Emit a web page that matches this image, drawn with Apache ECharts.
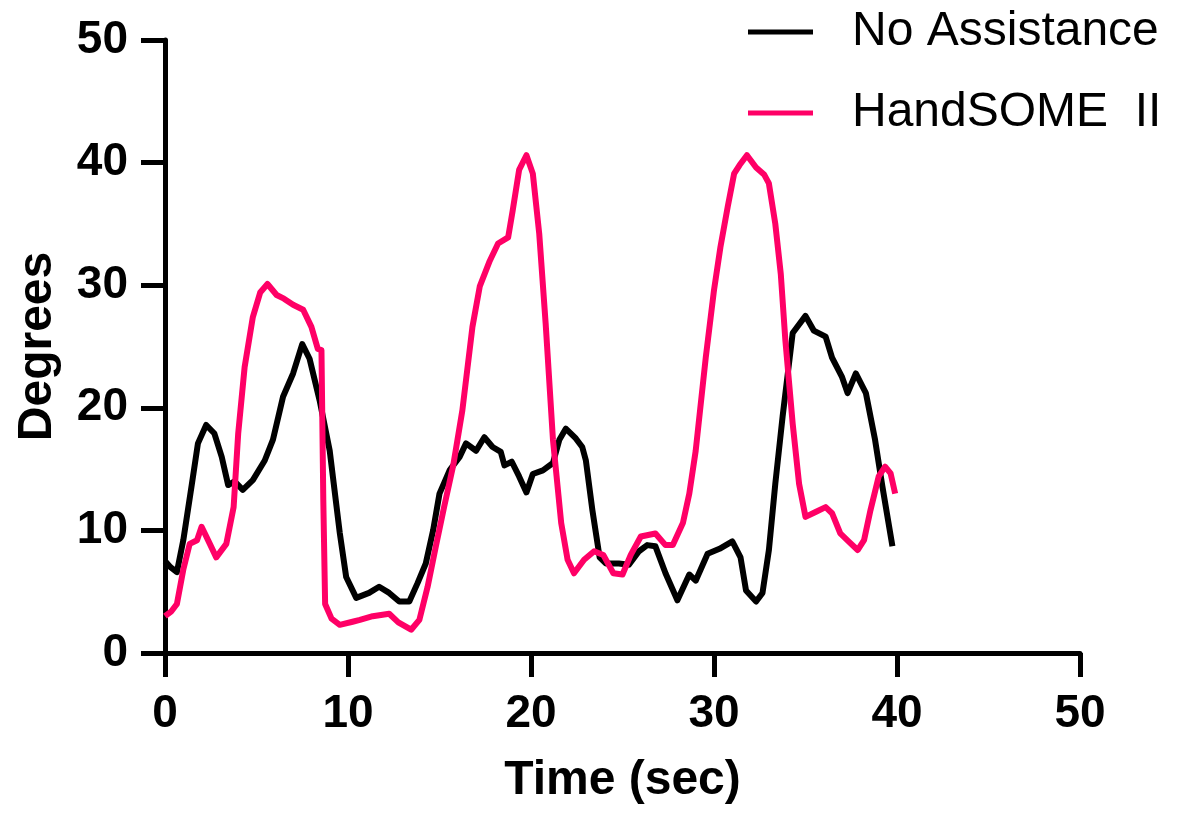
<!DOCTYPE html>
<html>
<head>
<meta charset="utf-8">
<title>Degrees over time</title>
<script src="https://cdn.jsdelivr.net/npm/echarts@6/dist/echarts.min.js"></script>
<style>
  html, body { margin: 0; padding: 0; background: #fff; }
  #chart { width: 1184px; height: 819px; }
</style>
</head>
<body>
<div id="chart"></div>
<script>
// Joint angle traces (degrees) sampled over time (sec)
const noAssistTime = [0, 0.3, 0.65, 1.0, 1.45, 1.8, 2.25, 2.7, 3.1, 3.45, 3.8, 4.25, 4.8, 5.45, 5.9, 6.45, 7.0, 7.5, 7.9, 8.45, 9.0, 9.55, 9.9, 10.45, 11.15, 11.7, 12.25, 12.8, 13.35, 13.8, 14.25, 14.65, 15.0, 15.55, 16.1, 16.45, 17.0, 17.45, 17.9, 18.35, 18.55, 18.95, 19.35, 19.75, 20.1, 20.65, 21.2, 21.55, 21.9, 22.45, 22.8, 23.0, 23.35, 23.75, 24.1, 24.8, 25.35, 25.9, 26.35, 26.8, 27.35, 28.0, 28.65, 29.0, 29.65, 30.3, 31.0, 31.45, 31.75, 32.3, 32.65, 33.0, 33.35, 33.75, 34.3, 35.0, 35.45, 36.1, 36.45, 37.0, 37.3, 37.75, 38.3, 38.8, 39.2, 39.75];
const noAssistDeg = [7.5, 7.0, 6.6, 9.2, 13.6, 17.1, 18.6, 17.9, 16.0, 13.7, 14.0, 13.3, 14.1, 15.7, 17.4, 20.9, 22.8, 25.2, 24.0, 20.6, 16.5, 9.8, 6.2, 4.5, 4.9, 5.4, 4.9, 4.2, 4.2, 5.7, 7.3, 10.0, 13.0, 14.9, 16.0, 17.1, 16.5, 17.6, 16.8, 16.4, 15.3, 15.6, 14.4, 13.1, 14.6, 14.9, 15.5, 17.4, 18.3, 17.5, 16.8, 15.7, 11.7, 7.8, 7.3, 7.3, 7.2, 8.3, 8.8, 8.7, 6.5, 4.3, 6.4, 5.9, 8.1, 8.5, 9.1, 7.8, 5.1, 4.2, 4.9, 8.4, 13.8, 19.3, 26.1, 27.5, 26.3, 25.8, 24.1, 22.5, 21.2, 22.8, 21.2, 17.4, 13.6, 8.7];

const handsomeTime = [0, 0.35, 0.65, 1.0, 1.35, 1.75, 2.0, 2.45, 2.8, 3.35, 3.75, 4.0, 4.35, 4.8, 5.2, 5.6, 6.1, 6.5, 7.0, 7.55, 8.0, 8.35, 8.55, 8.65, 8.75, 9.1, 9.55, 10.25, 10.65, 11.35, 12.25, 12.75, 13.45, 13.9, 14.35, 14.8, 15.25, 15.75, 16.25, 16.8, 17.2, 17.75, 18.2, 18.75, 19.0, 19.35, 19.75, 20.1, 20.45, 20.8, 21.2, 21.65, 22.0, 22.35, 22.9, 23.45, 23.95, 24.5, 25.0, 25.45, 26.0, 26.8, 27.35, 27.75, 28.3, 28.65, 29.0, 29.55, 30.0, 30.35, 30.75, 31.1, 31.4, 31.8, 32.3, 32.75, 33.0, 33.35, 33.65, 33.9, 34.3, 34.65, 35.0, 35.55, 36.1, 36.45, 36.9, 37.35, 37.85, 38.2, 38.55, 39.0, 39.35, 39.65, 39.9];
const handsomeDeg = [3.0, 3.4, 4.0, 6.8, 8.9, 9.2, 10.3, 8.9, 7.8, 8.9, 11.9, 17.9, 23.3, 27.4, 29.4, 30.1, 29.2, 28.9, 28.4, 28.0, 26.6, 24.8, 24.7, 12.5, 4.0, 2.8, 2.3, 2.55, 2.7, 3.0, 3.2, 2.5, 1.9, 2.7, 5.4, 8.7, 11.9, 15.3, 19.8, 26.6, 29.9, 32.0, 33.4, 33.9, 36.1, 39.4, 40.6, 39.1, 34.2, 26.9, 17.4, 10.6, 7.6, 6.5, 7.6, 8.3, 8.0, 6.5, 6.4, 8.0, 9.5, 9.75, 8.8, 8.8, 10.6, 13.0, 16.5, 24.1, 29.6, 33.1, 36.4, 39.1, 39.8, 40.6, 39.6, 39.0, 38.3, 35.0, 30.9, 25.5, 18.7, 13.8, 11.1, 11.5, 11.9, 11.4, 9.75, 9.1, 8.4, 9.2, 11.65, 14.4, 15.2, 14.65, 13.0];

const seriesNames = ['No Assistance', 'HandSOME  II'];
const seriesColors = ['#000000', '#ff0066'];
const axisTicks = { min: 0, max: 50, interval: 10 };

const pair = (xs, ys) => xs.map((x, i) => [x, ys[i]]);

const fontFamily = '"Liberation Sans", Arial, Helvetica, sans-serif';

const axisCommon = {
  type: 'value',
  min: axisTicks.min,
  max: axisTicks.max,
  interval: axisTicks.interval,
  splitLine: { show: false },
  axisLine: { show: true, lineStyle: { color: '#000', width: 5 } },
  axisTick: { show: true, inside: false, length: 24, lineStyle: { color: '#000', width: 5 } },
  nameLocation: 'middle',
  nameTextStyle: { color: '#000', fontWeight: 'bold', fontSize: 48, fontFamily }
};

const chart = echarts.init(document.getElementById('chart'), null, { renderer: 'canvas' });
chart.setOption({
  animation: false,
  backgroundColor: '#ffffff',
  grid: { left: 165, right: 104, top: 40, bottom: 166 },
  legend: {
    orient: 'vertical',
    left: 748,
    top: 8,
    padding: 0,
    itemGap: 33,
    itemWidth: 65,
    itemHeight: 5,
    icon: 'rect',
    data: seriesNames,
    textStyle: { color: '#000', fontSize: 48, lineHeight: 48, fontFamily, padding: [0, 0, 0, 34] }
  },
  xAxis: Object.assign({}, axisCommon, {
    name: 'Time (sec)',
    nameGap: 104,
    axisLabel: { color: '#000', fontWeight: 'bold', fontSize: 46, fontFamily, margin: 38 }
  }),
  yAxis: Object.assign({}, axisCommon, {
    name: 'Degrees',
    nameGap: 103,
    axisLabel: { color: '#000', fontWeight: 'bold', fontSize: 46, fontFamily, margin: 37 }
  }),
  series: [
    {
      name: seriesNames[0],
      type: 'line',
      data: pair(noAssistTime, noAssistDeg),
      showSymbol: false,
      color: seriesColors[0],
      lineStyle: { color: seriesColors[0], width: 6, join: 'round' }
    },
    {
      name: seriesNames[1],
      type: 'line',
      data: pair(handsomeTime, handsomeDeg),
      showSymbol: false,
      color: seriesColors[1],
      lineStyle: { color: seriesColors[1], width: 6, join: 'round' }
    }
  ]
});
</script>
</body>
</html>
